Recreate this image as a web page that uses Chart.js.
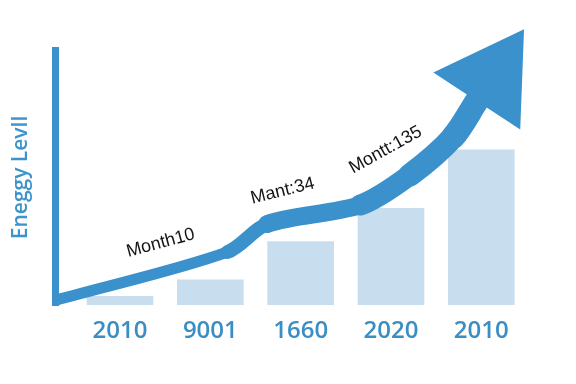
<!DOCTYPE html>
<html>
<head>
<meta charset="utf-8">
<script src="https://cdn.jsdelivr.net/npm/chart.js@4.4.0/dist/chart.umd.min.js"></script>
<style>
  html, body { margin: 0; padding: 0; background: #fff; }
</style>
</head>
<body>
<canvas id="myChart" width="576" height="384"></canvas>
<script>
// Year labels under the bars
const years = ['2010', '9001', '1660', '2020', '2010'];
// Bar heights (energy level)
const barValues = [3.5, 10, 25, 38, 61];
// Trend arrow: x in bar slots, y in energy level
const trendX = [0.3, 2.19, 2.63, 3.66, 4.21, 4.69, 4.95];
const trendY = [2, 20.8, 31.8, 39.2, 51, 66, 80];
// Notes written along the arrow
const noteLabels = ['Month10', 'Mant:34', 'Montt:135'];
const noteX = [1.45, 2.8, 3.94];
const noteY = [24.3, 44.7, 60.8];

const lineBlue = '#3a91cb';
const barBlue = '#c8ddee';
const textBlue = '#3b8ec4';

// Arrow head at the end of the trend line
const arrowHead = {
    id: 'arrowHead',
    afterDatasetsDraw(chart) {
        const pts = chart.getDatasetMeta(0).data;
        const a = pts[pts.length - 2];
        const b = pts[pts.length - 1];
        let dx = b.x - a.x, dy = b.y - a.y;
        const len = Math.hypot(dx, dy);
        dx /= len; dy /= len;
        const nx = -dy, ny = dx;
        const ctx = chart.ctx;
        ctx.save();
        ctx.fillStyle = lineBlue;
        ctx.beginPath();
        ctx.moveTo(b.x + dx * 86, b.y + dy * 86);
        ctx.lineTo(b.x + nx * 52, b.y + ny * 52);
        ctx.lineTo(b.x - nx * 52, b.y - ny * 52);
        ctx.closePath();
        ctx.fill();
        ctx.restore();
    }
};

// Tilted month notes
const notes = {
    id: 'notes',
    afterDatasetsDraw(chart) {
        const angles = [-15, -14, -29];
        const ctx = chart.ctx;
        const xs = chart.scales.x, ys = chart.scales.y;
        ctx.save();
        ctx.fillStyle = '#151515';
        ctx.font = '18px "Liberation Sans", Arial, sans-serif';
        ctx.textAlign = 'center';
        ctx.textBaseline = 'middle';
        noteLabels.forEach((t, i) => {
            ctx.save();
            ctx.translate(xs.getPixelForValue(noteX[i]), ys.getPixelForValue(noteY[i]));
            ctx.rotate(angles[i] * Math.PI / 180);
            ctx.fillText(t, 0, 0);
            ctx.restore();
        });
        ctx.restore();
    }
};

new Chart(document.getElementById('myChart'), {
    type: 'bar',
    data: {
        datasets: [
            {
                type: 'line',
                data: trendX.map((x, i) => ({ x: x, y: trendY[i] })),
                borderColor: lineBlue,
                borderWidth: 14,
                borderCapStyle: 'round',
                borderJoinStyle: 'round',
                pointRadius: 0,
                tension: 0.3,
                fill: false,
                order: 0,
                segment: {
                    borderWidth: ctx => [11, 14, 18, 21, 23, 24][ctx.p0DataIndex]
                }
            },
            {
                data: barValues.map((v, i) => ({ x: i + 1, y: v })),
                backgroundColor: barBlue,
                barPercentage: 0.82,
                categoryPercentage: 0.9,
                order: 1
            }
        ]
    },
    options: {
        responsive: false,
        animation: false,
        layout: { padding: { top: 50, left: 8, right: 36, bottom: 0 } },
        plugins: {
            legend: { display: false },
            tooltip: { enabled: false }
        },
        scales: {
            x: {
                type: 'linear',
                offset: false,
                min: 0.28,
                max: 5.65,
                afterFit: axis => { axis.height = 79; },
                afterBuildTicks: axis => {
                    axis.ticks = years.map((_, i) => ({ value: i + 1 }));
                },
                grid: { display: false, drawTicks: false },
                border: { display: false },
                ticks: {
                    padding: 12,
                    color: textBlue,
                    font: { family: '"Open Sans", sans-serif', size: 24, weight: '600' },
                    callback: (v, i) => years[i]
                }
            },
            y: {
                min: 0,
                max: 100,
                afterFit: axis => { axis.width = 47; },
                grid: { display: false, drawTicks: false },
                border: { display: true, color: lineBlue, width: 7 },
                ticks: { display: false },
                title: {
                    display: true,
                    text: 'Eneggy Levll',
                    color: '#3d93cb',
                    padding: 0,
                    font: { family: '"Open Sans", sans-serif', size: 21, weight: '600' }
                }
            }
        }
    },
    plugins: [arrowHead, notes]
});
</script>
</body>
</html>
